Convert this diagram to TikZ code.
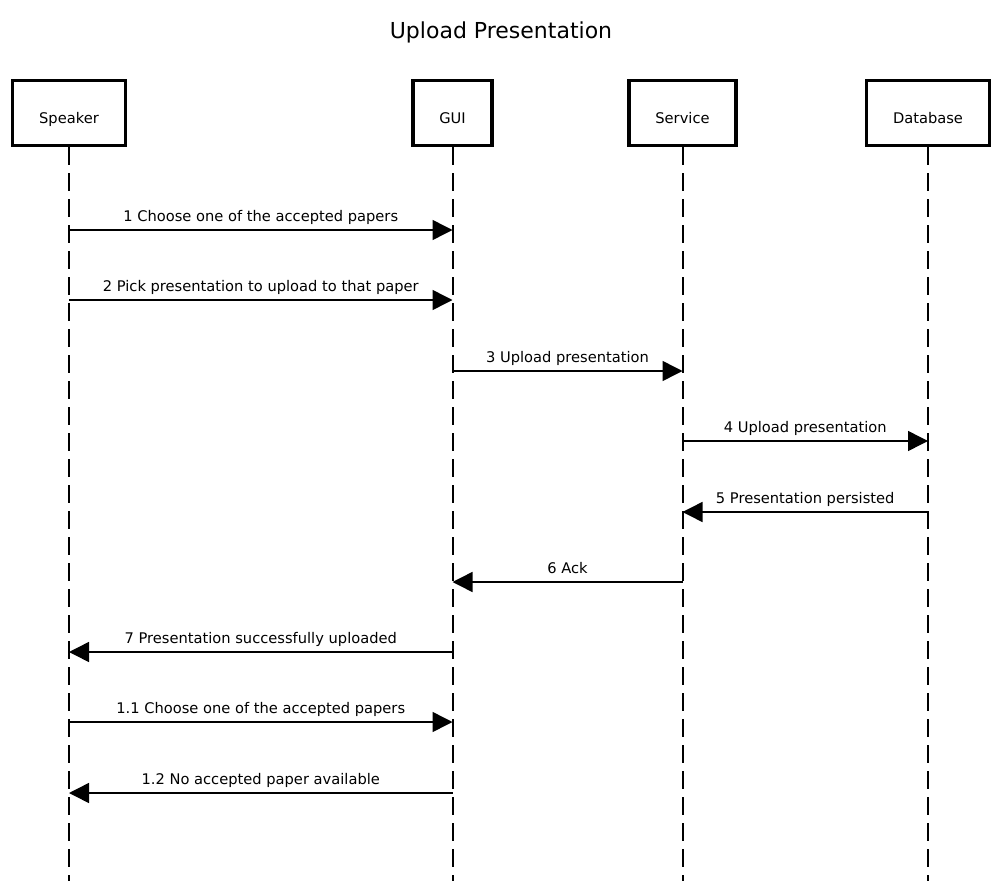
\documentclass[tikz,border=0pt]{standalone}
\usepackage{fontspec}
\setmainfont{DejaVu Sans}
\usetikzlibrary{arrows.meta}

\begin{document}
\begin{tikzpicture}[x=0.75pt, y=-0.75pt,
    actor/.style={draw, line width=2.6pt, minimum height=48.75pt, text height=16pt, text depth=0pt, font=\fontsize{11}{13}\selectfont},
    lifeline/.style={line width=1.5pt, dash pattern=on 13.5pt off 6pt},
    msg/.style={line width=1.1pt, -{Triangle[length=15pt,width=15pt]}}]
    \useasboundingbox (0,0) rectangle (1003,881);
    \node (title) at (501,32) {\fontsize{16.5}{19}\selectfont Upload Presentation};
    \node[actor, minimum width=84.5pt] (spk) at (69,113) {Speaker};
    \node[actor, minimum width=59.5pt] (gui) at (452.5,113) {GUI};
    \node[actor, minimum width=80.5pt] (srv) at (682.5,113) {Service};
    \node[actor, minimum width=92pt] (db) at (928,113) {Database};
    \foreach \n in {spk,gui,srv,db}
      \draw[lifeline] (\n.south) -- (\n |- 0,881);
    \foreach \a/\b/\y/\t in {spk/gui/230/1 Choose one of the accepted papers,
        spk/gui/300/2 Pick presentation to upload to that paper,
        gui/srv/371/3 Upload presentation,
        srv/db/441/4 Upload presentation,
        db/srv/512/5 Presentation persisted,
        srv/gui/582/6 Ack,
        gui/spk/652/7 Presentation successfully uploaded,
        spk/gui/722/1.1 Choose one of the accepted papers,
        gui/spk/793/1.2 No accepted paper available}
      \draw[msg] (\a |- 0,\y) -- (\b |- 0,\y)
        node[midway, above, text depth=0.25em, font=\fontsize{11}{13}\selectfont] {\t};
\end{tikzpicture}
\end{document}
